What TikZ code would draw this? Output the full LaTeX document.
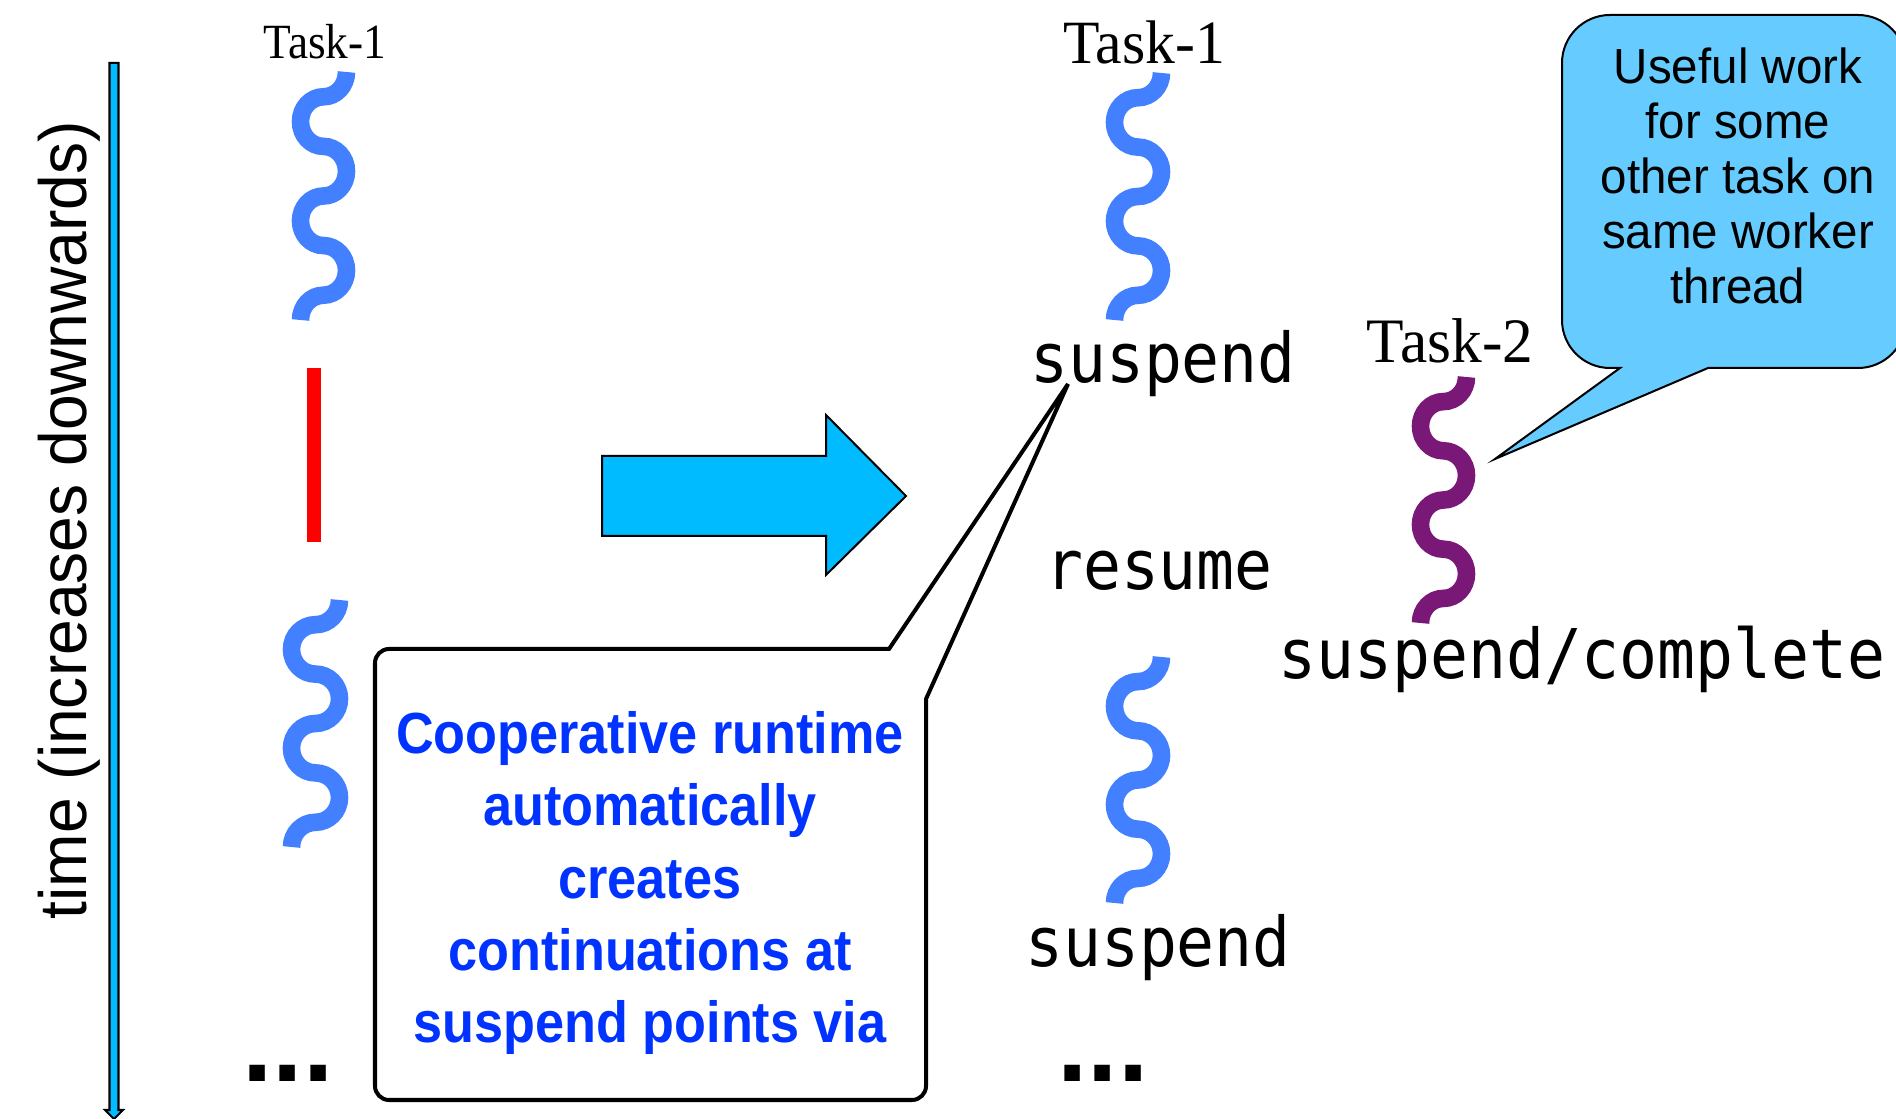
\documentclass[tikz,border=0pt]{standalone}
\usepackage{fontspec}
\setmainfont{Liberation Serif}
\newfontfamily\tasksmallfont[FakeStretch=0.92]{Liberation Serif}
\newfontfamily\taskbigfont[FakeStretch=0.97]{Liberation Serif}
\newfontfamily\axisfont[FakeStretch=0.96]{Liberation Sans}
\newfontfamily\notefont[FakeStretch=0.965]{Liberation Sans}
\newfontfamily\calloutfont[FakeStretch=0.9]{Liberation Sans}
\newfontfamily\dotsfont{Liberation Sans}
\newfontfamily\codefont[FakeStretch=0.92]{DejaVu Sans Mono}

\definecolor{taskblue}{RGB}{66,128,255}
\definecolor{taskpurple}{RGB}{122,24,120}
\definecolor{arrowcyan}{RGB}{0,187,255}
\definecolor{bubblefill}{RGB}{102,204,255}
\definecolor{calloutblue}{RGB}{0,51,255}

\def\kq{0.5523}

\begin{document}
\begin{tikzpicture}[x=0.01cm, y=-0.01cm,
  txt/.style={inner sep=0pt, outer sep=0pt},
  tasksmall/.style={txt, font=\tasksmallfont\fontsize{14}{16}\selectfont},
  taskbig/.style={txt, font=\taskbigfont\fontsize{17.5}{20}\selectfont},
  codetext/.style={txt, font=\codefont\fontsize{19.5}{22}\selectfont},
  dotstext/.style={txt, font=\dotsfont\bfseries\fontsize{31}{34}\selectfont},
  axislabel/.style={txt, font=\axisfont\fontsize{19}{22}\selectfont},
  notetext/.style={txt, align=center, font=\notefont\fontsize{14}{15.65}\selectfont},
  callouttext/.style={txt, align=center, text=calloutblue,
    font=\calloutfont\bfseries\fontsize{16.5}{20.5}\selectfont},
  outline/.style={draw=black, line width=0.57pt, line join=miter},
  % a wavy task body made of ten quarter arcs; the unit wave runs from the
  % right crest (1,0) down to the left crest (-1,10); place it with
  % xscale = half amplitude and yscale = height of one quarter arc
  taskwave/.pic={
    \draw[line width=5pt, line cap=butt]
      (1,0) .. controls (1,\kq) and (\kq,1) .. (0,1)
      .. controls (-\kq,1) and (-1,2-\kq) .. (-1,2)
      .. controls (-1,2+\kq) and (-\kq,3) .. (0,3)
      .. controls (\kq,3) and (1,4-\kq) .. (1,4)
      .. controls (1,4+\kq) and (\kq,5) .. (0,5)
      .. controls (-\kq,5) and (-1,6-\kq) .. (-1,6)
      .. controls (-1,6+\kq) and (-\kq,7) .. (0,7)
      .. controls (\kq,7) and (1,8-\kq) .. (1,8)
      .. controls (1,8+\kq) and (\kq,9) .. (0,9)
      .. controls (-\kq,9) and (-1,10-\kq) .. (-1,10);
  }
]
\useasboundingbox (0,0) rectangle (1896,1119);

% time axis
\draw[outline, fill=arrowcyan] (109.5,63) -- (118.5,63) -- (118.5,1110) -- (123,1110)
  -- (114,1119) -- (105,1110) -- (109.5,1110) -- cycle;
\node[axislabel, rotate=90, anchor=base] (timelabel) at (86,520) {time (increases downwards)};

% left column: one task with a blocking gap
\node[tasksmall, anchor=base] (leftname) at (325,59) {Task-1};
\pic[taskblue, xscale=23, yscale=24.8] (leftwaveA) at (323.5,72) {taskwave};
\fill[red] (307,368) rectangle (321,542);
\pic[taskblue, xscale=24, yscale=24.7] (leftwaveB) at (315.5,600) {taskwave};
\node[dotstext, anchor=base] (leftdots) at (288,1082) {...};

% transformation arrow
\draw[outline, fill=arrowcyan] (602,456) -- (826,456) -- (826,415) -- (906,496)
  -- (826,575) -- (826,536) -- (602,536) -- cycle;

% callout pointing at the first suspend point
\coordinate (calltip) at (1068,384);
\draw[draw=black, fill=white, line width=1.14pt, line join=miter]
  (889,649) -- (calltip) -- (926,699) -- (926,1086)
  .. controls (926,1093.7) and (919.7,1100) .. (912,1100) -- (389,1100)
  .. controls (381.3,1100) and (375,1093.7) .. (375,1086) -- (375,663)
  .. controls (375,655.3) and (381.3,649) .. (389,649) -- cycle;
\node[callouttext] (calltext) at (650,883)
  {Cooperative runtime\\automatically\\creates\\continuations at\\suspend points via};

% right column: Task-1 split into continuations
\node[taskbig, anchor=base] (rightname) at (1144,64) {Task-1};
\pic[taskblue, xscale=23.5, yscale=24.7] (rightwaveA) at (1138,73) {taskwave};
\node[codetext, anchor=base] (suspendA) at (1163,383) {suspend};
\node[codetext, anchor=base] (resumeA) at (1159,590) {resume};
\pic[taskblue, xscale=23.5, yscale=24.6] (rightwaveB) at (1138,657) {taskwave};
\node[codetext, anchor=base] (suspendB) at (1158,967) {suspend};
\node[dotstext, anchor=base] (rightdots) at (1103,1082) {...};

% Task-2 runs while Task-1 is suspended
\node[taskbig, anchor=base, font=\taskbigfont\fontsize{18}{20}\selectfont] (othername) at (1450,363) {Task-2};
\pic[taskpurple, xscale=23, yscale=24.6] (otherwave) at (1443.5,377) {taskwave};
\node[codetext, anchor=base] (suspendC) at (1582,679) {suspend/complete};

% speech bubble
\coordinate (bubbletip) at (1495,459);
\draw[outline, fill=bubblefill]
  (1620,368) -- (bubbletip) -- (1708,368) -- (1858,368)
  .. controls (1884.5,368) and (1906,346.5) .. (1906,320) -- (1906,63)
  .. controls (1906,36.5) and (1884.5,15) .. (1858,15) -- (1610,15)
  .. controls (1583.5,15) and (1562,36.5) .. (1562,63) -- (1562,320)
  .. controls (1562,346.5) and (1583.5,368) .. (1610,368) -- cycle;
\node[notetext] (bubbletext) at (1738,176)
  {Useful work\\for some\\other task on\\same worker\\thread};
\end{tikzpicture}
\end{document}
